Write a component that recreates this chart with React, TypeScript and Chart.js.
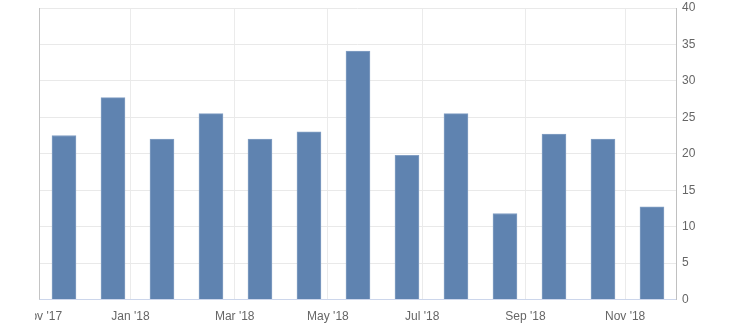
import React, { useEffect, useRef } from "react";
import { Chart, registerables } from "chart.js";

Chart.register(...registerables);

// Monthly releases, Nov 2017 – Nov 2018
const months = ["Nov '17", "Dec '17", "Jan '18", "Feb '18", "Mar '18", "Apr '18", "May '18", "Jun '18", "Jul '18", "Aug '18", "Sep '18", "Oct '18", "Nov '18"];
const values = [22.5, 27.7, 22.0, 25.5, 22.0, 23.0, 34.1, 19.8, 25.5, 11.8, 22.7, 22.0, 12.7];

// Axis tick labels (month starts) and where they fall, in release-index units
const tickLabels = ["Nov '17", "Jan '18", "Mar '18", "May '18", "Jul '18", "Sep '18", "Nov '18"];
const tickAt = [-0.45, 1.356, 3.484, 5.386, 7.312, 9.419, 11.452];

const yMin = 0;
const yMax = 40;
const yStep = 5;

const leftBorder = {
  id: "leftBorder",
  afterDraw(chart: any) {
    const { ctx, chartArea } = chart;
    ctx.save();
    ctx.strokeStyle = "#c4c4c4";
    ctx.lineWidth = 1;
    ctx.beginPath();
    ctx.moveTo(chartArea.left + 0.5, chartArea.top);
    ctx.lineTo(chartArea.left + 0.5, chartArea.bottom);
    ctx.stroke();
    ctx.restore();
  },
};

export default function App() {
  const ref = useRef<HTMLCanvasElement>(null);

  useEffect(() => {
    if (!ref.current) return;
    Chart.defaults.font.family = '"Liberation Sans", Arial, sans-serif';
    Chart.defaults.font.size = 12;
    Chart.defaults.color = "#666666";

    const chart = new Chart(ref.current, {
      type: "bar",
      data: {
        datasets: [
          {
            label: "Value",
            data: values.map((v, i) => ({ x: i, y: v, m: months[i] })) as any,
            backgroundColor: "#5f83b0",
            borderColor: "#84a0c4",
            borderWidth: 1,
            barThickness: 24,
          },
        ],
      },
      options: {
        animation: false,
        responsive: false,
        layout: { padding: { left: 4, top: 8, right: 0, bottom: 0 } },
        plugins: { legend: { display: false }, tooltip: { enabled: false } },
        scales: {
          x: {
            type: "linear",
            offset: false,
            min: -0.51,
            max: 12.49,
            afterBuildTicks: (s: any) => {
              s.ticks = tickAt.map((v) => ({ value: v }));
            },
            afterFit: (s: any) => {
              s.paddingLeft = 0;
              s.paddingRight = 0;
              s.height = 25.5;
            },
            ticks: {
              autoSkip: false,
              maxRotation: 0,
              padding: 10,
              color: "#666666",
              callback: (_v: any, i: number) => tickLabels[i],
            },
            grid: {
              offset: false,
              drawTicks: false,
              color: (c: any) => (c.index === 0 ? "rgba(0,0,0,0)" : "#ebebeb"),
            },
            border: { color: "#ccd6eb" },
          },
          y: {
            position: "right",
            min: yMin,
            max: yMax,
            afterFit: (s: any) => {
              s.width = 54;
              s.paddingTop = 0;
              s.paddingBottom = 0;
            },
            ticks: { stepSize: yStep, padding: 6, color: "#666666" },
            grid: { drawTicks: false, color: "#e9e9e9" },
            border: { color: "#c0c0c0" },
          },
        },
      },
      plugins: [leftBorder],
    });
    return () => chart.destroy();
  }, []);

  return (
    <div style={{ position: "absolute", left: 35, top: 0, width: 695, height: 325, overflow: "hidden" }}>
      <canvas ref={ref} width={695} height={325} style={{ display: "block" }} />
    </div>
  );
}
